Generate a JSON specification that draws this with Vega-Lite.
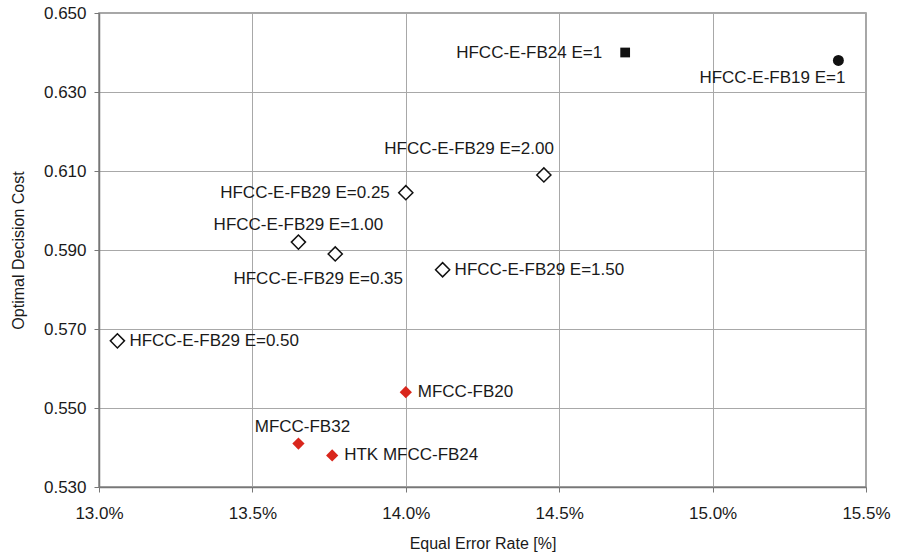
{
  "$schema": "https://vega.github.io/schema/vega-lite/v6.json",
  "width": 767,
  "height": 474,
  "autosize": {"type": "none"},
  "padding": {"left": 99, "top": 13, "right": 32, "bottom": 68},
  "background": "white",
  "config": {
    "view": {"stroke": "#8a8a8a", "strokeWidth": 1.5},
    "font": "Liberation Sans",
    "axis": {
      "labelFont": "Liberation Sans",
      "titleFont": "Liberation Sans",
      "labelFontSize": 17,
      "titleFontSize": 16,
      "titleFontWeight": "normal",
      "labelColor": "#1a1a1a",
      "titleColor": "#1a1a1a",
      "gridColor": "#a8a8a8",
      "gridWidth": 1,
      "gridOpacity": 1,
      "domainColor": "#777",
      "domainWidth": 1.5,
      "tickColor": "#777",
      "tickSize": 5
    }
  },
  "data": {
    "values": [
      {"name": "HFCC-E-FB24 E=1", "eer": 14.715, "cost": 0.640, "marker": "square"},
      {"name": "HFCC-E-FB19 E=1", "eer": 15.41, "cost": 0.638, "marker": "circle"},
      {"name": "HFCC-E-FB29 E=2.00", "eer": 14.45, "cost": 0.609, "marker": "open"},
      {"name": "HFCC-E-FB29 E=0.25", "eer": 14.0, "cost": 0.6045, "marker": "open"},
      {"name": "HFCC-E-FB29 E=1.00", "eer": 13.65, "cost": 0.592, "marker": "open"},
      {"name": "HFCC-E-FB29 E=0.35", "eer": 13.77, "cost": 0.589, "marker": "open"},
      {"name": "HFCC-E-FB29 E=1.50", "eer": 14.12, "cost": 0.585, "marker": "open"},
      {"name": "HFCC-E-FB29 E=0.50", "eer": 13.06, "cost": 0.567, "marker": "open"},
      {"name": "MFCC-FB20", "eer": 14.0, "cost": 0.554, "marker": "red"},
      {"name": "MFCC-FB32", "eer": 13.65, "cost": 0.541, "marker": "red"},
      {"name": "HTK MFCC-FB24", "eer": 13.76, "cost": 0.538, "marker": "red"}
    ]
  },
  "encoding": {
    "x": {
      "field": "eer", "type": "quantitative",
      "scale": {"domain": [13.0, 15.5], "nice": false, "zero": false},
      "axis": {
        "title": "Equal Error Rate [%]",
        "values": [13.0, 13.5, 14.0, 14.5, 15.0, 15.5],
        "labelExpr": "format(datum.value, '.1f') + '%'",
        "labelPadding": 13,
        "titlePadding": 14,
        "labelFlush": false
      }
    },
    "y": {
      "field": "cost", "type": "quantitative",
      "scale": {"domain": [0.53, 0.65], "nice": false, "zero": false},
      "axis": {
        "title": "Optimal Decision Cost",
        "values": [0.53, 0.55, 0.57, 0.59, 0.61, 0.63, 0.65],
        "format": ".3f",
        "labelPadding": 8,
        "titlePadding": 17,
        "labelFlush": false
      }
    }
  },
  "layer": [
    {
      "transform": [{"filter": "datum.marker == 'open'"}],
      "mark": {"type": "point", "shape": "diamond", "size": 200, "filled": true, "fill": "white", "stroke": "#111", "strokeWidth": 1.5, "opacity": 1}
    },
    {
      "transform": [{"filter": "datum.marker == 'red'"}],
      "mark": {"type": "point", "shape": "diamond", "size": 150, "filled": true, "color": "#d9261c", "opacity": 1}
    },
    {
      "transform": [{"filter": "datum.marker == 'square'"}],
      "mark": {"type": "point", "shape": "square", "size": 95, "filled": true, "color": "#111", "opacity": 1}
    },
    {
      "transform": [{"filter": "datum.marker == 'circle'"}],
      "mark": {"type": "point", "shape": "circle", "size": 120, "filled": true, "color": "#111", "opacity": 1}
    },
    {
      "transform": [{"filter": "indexof(['HFCC-E-FB29 E=1.50','HFCC-E-FB29 E=0.50','MFCC-FB20','HTK MFCC-FB24'], datum.name) >= 0"}],
      "mark": {"type": "text", "align": "left", "baseline": "middle", "dx": 12, "fontSize": 17, "color": "#1a1a1a"},
      "encoding": {"text": {"field": "name"}}
    },
    {
      "transform": [{"filter": "datum.name == 'HFCC-E-FB24 E=1'"}],
      "mark": {"type": "text", "align": "right", "baseline": "middle", "dx": -23, "fontSize": 17, "color": "#1a1a1a"},
      "encoding": {"text": {"field": "name"}}
    },
    {
      "transform": [{"filter": "datum.name == 'HFCC-E-FB29 E=0.25'"}],
      "mark": {"type": "text", "align": "right", "baseline": "middle", "dx": -16, "fontSize": 17, "color": "#1a1a1a"},
      "encoding": {"text": {"field": "name"}}
    },
    {
      "transform": [{"filter": "datum.name == 'HFCC-E-FB29 E=1.00'"}],
      "mark": {"type": "text", "align": "center", "baseline": "middle", "dy": -17, "fontSize": 17, "color": "#1a1a1a"},
      "encoding": {"text": {"field": "name"}}
    },
    {
      "transform": [{"filter": "datum.name == 'MFCC-FB32'"}],
      "mark": {"type": "text", "align": "center", "baseline": "middle", "dx": 4, "dy": -17, "fontSize": 17, "color": "#1a1a1a"},
      "encoding": {"text": {"field": "name"}}
    },
    {
      "transform": [{"filter": "datum.name == 'HFCC-E-FB29 E=2.00'"}],
      "mark": {"type": "text", "align": "right", "baseline": "middle", "dx": 10, "dy": -26, "fontSize": 17, "color": "#1a1a1a"},
      "encoding": {"text": {"field": "name"}}
    },
    {
      "transform": [{"filter": "datum.name == 'HFCC-E-FB29 E=0.35'"}],
      "mark": {"type": "text", "align": "center", "baseline": "middle", "dx": -17, "dy": 25, "fontSize": 17, "color": "#1a1a1a"},
      "encoding": {"text": {"field": "name"}}
    },
    {
      "transform": [{"filter": "datum.name == 'HFCC-E-FB19 E=1'"}],
      "mark": {"type": "text", "align": "right", "baseline": "middle", "dx": 7, "dy": 18, "fontSize": 17, "color": "#1a1a1a"},
      "encoding": {"text": {"field": "name"}}
    }
  ]
}
